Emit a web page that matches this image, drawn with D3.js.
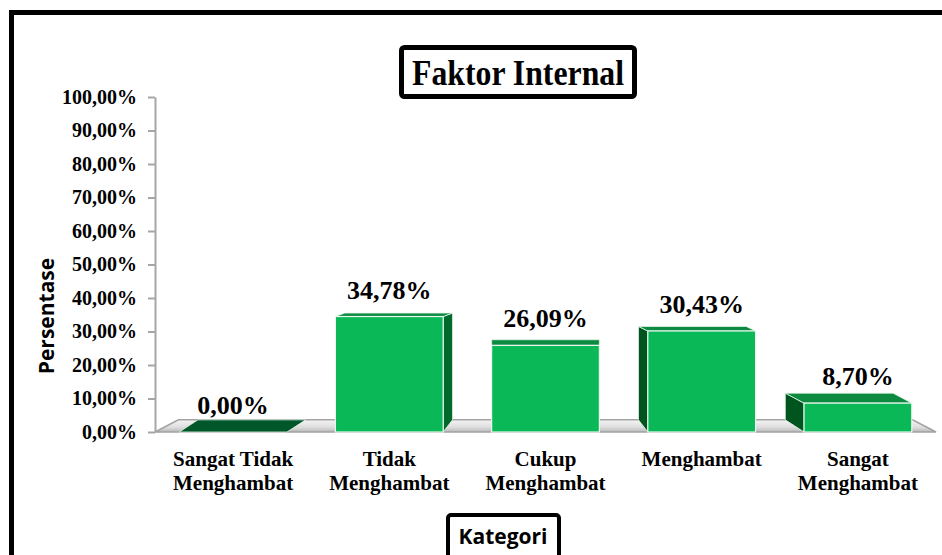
<!DOCTYPE html>
<html>
<head>
<meta charset="utf-8">
<script src="https://cdn.jsdelivr.net/npm/d3@7"></script>
<style>
  body { margin: 0; background: #fff; }
</style>
</head>
<body>
<div id="wrapper"></div>
<script>
const categories = ['Sangat Tidak Menghambat', 'Tidak Menghambat', 'Cukup Menghambat', 'Menghambat', 'Sangat Menghambat']
const values = [0, 0.3478, 0.2609, 0.3043, 0.087]
const yTicks = [0, 0.1, 0.2, 0.3, 0.4, 0.5, 0.6, 0.7, 0.8, 0.9, 1]
const titleText = 'Faktor Internal'
const yTitle = 'Persentase'
const xTitle = 'Kategori'

function drawChart() {
  // 1. Access data
  const dataset = categories.map((c, i) => ({ category: c, value: values[i] }))
  const xAccessor = (d) => d.category
  const yAccessor = (d) => d.value

  // 2. Create chart dimensions
  const dimensions = {
    width: 942,
    height: 555,
    left: 155,
    right: 936,
    top: 97,
    bottom: 432,
  }

  // 3. Draw canvas
  const wrapper = d3
    .select('#wrapper')
    .append('svg')
    .attr('width', dimensions.width)
    .attr('height', dimensions.height)
    .style('display', 'block')

  const defs = wrapper.append('defs')
  const floorGradient = defs
    .append('linearGradient')
    .attr('id', 'floor-gradient')
    .attr('x1', 0)
    .attr('x2', 0)
    .attr('y1', 0)
    .attr('y2', 1)
  floorGradient.append('stop').attr('offset', '0%').attr('stop-color', '#f4f4f4')
  floorGradient.append('stop').attr('offset', '60%').attr('stop-color', '#dedede')
  floorGradient.append('stop').attr('offset', '100%').attr('stop-color', '#b8b8b8')

  // outer frame
  wrapper
    .append('rect')
    .attr('x', 11.5)
    .attr('y', 12.5)
    .attr('width', 1000)
    .attr('height', 700)
    .attr('fill', 'none')
    .attr('stroke', '#000')
    .attr('stroke-width', 5)

  // 4. Create scales
  const xScale = d3
    .scaleBand()
    .domain(categories)
    .range([dimensions.left, dimensions.right])
    .paddingInner(0.31)
    .paddingOuter(0.155)

  const yScale = d3.scaleLinear().domain([0, 1]).range([dimensions.bottom, dimensions.top])
  // bar heights in the 3d view are a touch shorter than the axis
  const barScale = d3.scaleLinear().domain([0, 1]).range([dimensions.bottom, 100])

  const bw = xScale.bandwidth()
  const vanishX = xScale(categories[2]) + bw / 2
  const depthX = (cx) => (vanishX - cx) * 0.06
  const depthY = (y) => -(y - 270) * 0.075

  // 5. Draw data
  const floorBack = depthY(dimensions.bottom)
  const floorPoints = [
    [dimensions.left, dimensions.bottom],
    [dimensions.right, dimensions.bottom],
    [dimensions.right + depthX(dimensions.right), dimensions.bottom + floorBack],
    [dimensions.left + depthX(dimensions.left), dimensions.bottom + floorBack],
  ]
  wrapper
    .append('polygon')
    .attr('points', floorPoints.map((p) => p.join(',')).join(' '))
    .attr('fill', 'url(#floor-gradient)')
    .attr('stroke', '#a3a3a3')
    .attr('stroke-width', 1.5)

  const bars = wrapper.append('g').selectAll('g').data(dataset).join('g')

  bars.each(function (d) {
    const g = d3.select(this)
    const x0 = xScale(xAccessor(d))
    const x1 = x0 + bw
    const yTop = barScale(yAccessor(d))
    const yBot = barScale(0)
    const dx = depthX(x0 + bw / 2)
    const dyTop = depthY(yTop)
    const dyBot = depthY(yBot)
    const line = (pts) => pts.map((p) => p.join(',')).join(' ')

    if (dx > 1 && yAccessor(d) > 0) {
      g.append('polygon')
        .attr('points', line([[x1, yTop], [x1 + dx, yTop + dyTop], [x1 + dx, yBot + dyBot], [x1, yBot]]))
        .attr('fill', '#00692c')
        .attr('stroke', '#e8f5ec')
        .attr('stroke-width', 0.8)
    } else if (dx < -1 && yAccessor(d) > 0) {
      g.append('polygon')
        .attr('points', line([[x0, yTop], [x0 + dx, yTop + dyTop], [x0 + dx, yBot + dyBot], [x0, yBot]]))
        .attr('fill', '#00551f')
        .attr('stroke', '#e8f5ec')
        .attr('stroke-width', 0.8)
    }

    g.append('polygon')
      .attr('points', line([[x0, yTop], [x1, yTop], [x1 + dx, yTop + dyTop], [x0 + dx, yTop + dyTop]]))
      .attr('fill', yAccessor(d) > 0 ? '#0b8a40' : '#00582a')
      .attr('stroke', '#e8f5ec')
      .attr('stroke-width', 0.8)

    if (yAccessor(d) > 0) {
      g.append('rect')
        .attr('x', x0)
        .attr('y', yTop)
        .attr('width', bw)
        .attr('height', yBot - yTop)
        .attr('fill', '#0bb857')
        .attr('stroke', '#eaf7ef')
        .attr('stroke-width', 1.2)
    }
  })

  const formatPercent = (v) => d3.format('.2f')(v * 100).replace('.', ',') + '%'

  wrapper
    .append('g')
    .selectAll('text')
    .data(dataset)
    .join('text')
    .attr('x', (d) => xScale(xAccessor(d)) + bw / 2)
    .attr('y', (d) => barScale(yAccessor(d)) - 18)
    .attr('text-anchor', 'middle')
    .style('font-family', '"Liberation Serif", "Times New Roman", serif')
    .style('font-weight', 'bold')
    .style('font-size', '26px')
    .text((d) => formatPercent(yAccessor(d)))

  // 6. Draw peripherals
  const yAxisGenerator = d3
    .axisLeft(yScale)
    .tickValues(yTicks)
    .tickFormat(formatPercent)
    .tickSizeInner(7)
    .tickSizeOuter(0)
    .tickPadding(11)

  const yAxis = wrapper
    .append('g')
    .attr('transform', `translate(${dimensions.left},0)`)
    .call(yAxisGenerator)
  yAxis.select('.domain').attr('stroke', '#a6a6a6').attr('stroke-width', 2)
  yAxis.selectAll('.tick line').attr('stroke', '#a6a6a6').attr('stroke-width', 2)
  yAxis
    .selectAll('.tick text')
    .attr('fill', '#000')
    .style('font-family', '"Liberation Serif", "Times New Roman", serif')
    .style('font-weight', 'bold')
    .style('font-size', '20px')

  // category labels, last word drops to second line
  const xLabels = wrapper
    .append('g')
    .selectAll('text')
    .data(categories)
    .join('text')
    .attr('x', (d) => xScale(d) + bw / 2)
    .attr('y', 466)
    .attr('text-anchor', 'middle')
    .style('font-family', '"Liberation Serif", "Times New Roman", serif')
    .style('font-weight', 'bold')
    .style('font-size', '21px')

  xLabels.each(function (d) {
    const words = d.split(' ')
    const lines = words.length > 1 ? [words.slice(0, -1).join(' '), words[words.length - 1]] : [d]
    d3.select(this)
      .selectAll('tspan')
      .data(lines)
      .join('tspan')
      .attr('x', xScale(d) + bw / 2)
      .attr('dy', (l, i) => (i === 0 ? 0 : 24))
      .text((l) => l)
  })

  // y axis title
  wrapper
    .append('text')
    .attr('transform', 'translate(54,316) rotate(-90)')
    .attr('text-anchor', 'middle')
    .style('font-family', '"Open Sans", sans-serif')
    .style('font-weight', 'bold')
    .style('font-size', '21px')
    .text(yTitle)

  // chart title in a box
  wrapper
    .append('rect')
    .attr('x', 401.5)
    .attr('y', 47.5)
    .attr('width', 233)
    .attr('height', 49)
    .attr('rx', 3)
    .attr('fill', '#fff')
    .attr('stroke', '#000')
    .attr('stroke-width', 5)

  wrapper
    .append('text')
    .attr('x', 518)
    .attr('y', 85)
    .attr('text-anchor', 'middle')
    .attr('textLength', 212)
    .attr('lengthAdjust', 'spacingAndGlyphs')
    .style('font-family', '"Liberation Serif", "Times New Roman", serif')
    .style('font-weight', 'bold')
    .style('font-size', '36px')
    .text(titleText)

  // x axis title in a box
  wrapper
    .append('rect')
    .attr('x', 448)
    .attr('y', 515)
    .attr('width', 111)
    .attr('height', 60)
    .attr('rx', 3)
    .attr('fill', '#fff')
    .attr('stroke', '#000')
    .attr('stroke-width', 4)

  wrapper
    .append('text')
    .attr('x', 503)
    .attr('y', 544)
    .attr('text-anchor', 'middle')
    .style('font-family', '"Open Sans", sans-serif')
    .style('font-weight', 'bold')
    .style('font-size', '21px')
    .text(xTitle)
}
drawChart()
</script>
</body>
</html>
